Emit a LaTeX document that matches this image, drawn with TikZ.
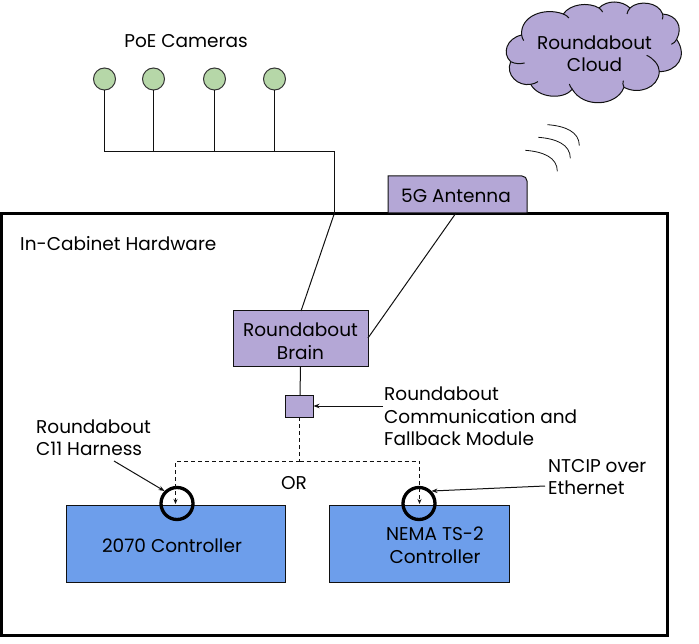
\documentclass[tikz,border=0pt]{standalone}
\usepackage{fontspec}
\setmainfont{Poppins}
\usetikzlibrary{arrows.meta}
\definecolor{lav}{HTML}{B4A7D6}
\definecolor{camg}{HTML}{B6D7A8}
\definecolor{ctrl}{HTML}{6D9EEB}
\definecolor{ink}{HTML}{111111}
\tikzset{
  x=1pt,y=-1pt,
  txt/.style={font=\fontsize{18.5}{22.5}\selectfont,text=black,inner sep=0pt,align=center},
  ltxt/.style={txt,align=left,anchor=north west},
  lav box/.style={draw=ink,line width=1pt,fill=lav,inner sep=0pt,outer sep=0pt,anchor=north west},
  ctrl box/.style={draw=ink,line width=1pt,fill=ctrl,inner sep=0pt,outer sep=0pt,anchor=north west},
  cam/.style={circle,draw=ink!85,line width=1pt,fill=camg,minimum size=22pt,inner sep=0pt},
  wire/.style={draw=ink,line width=1pt},
  dash wire/.style={draw=ink,line width=1pt,dash pattern=on 4pt off 3pt},
  tip/.style={-{Stealth[length=6pt,width=4.5pt]}},
  ring/.style={circle,draw=black,line width=3.3pt,minimum size=32pt,inner sep=0pt},
}
\begin{document}
\begin{tikzpicture}
\useasboundingbox (0,0) rectangle (699,644);
% cabinet
\node[draw=black,line width=3pt,minimum width=666pt,minimum height=421.5pt,inner sep=0pt,outer sep=0pt,anchor=north west] (cabinet) at (1,213.5) {};
\node[ltxt,anchor=west] (cablabel) at (20,244) {In-Cabinet Hardware};
% cameras
\node[txt] (camlabel) at (186,41) {PoE Cameras};
\node[cam] (c1) at (104.5,79) {};
\node[cam] (c2) at (153.5,79) {};
\node[cam] (c3) at (214.5,79) {};
\node[cam] (c4) at (274.5,79) {};
\coordinate (j1) at (104.5,152);
\coordinate (j2) at (153.5,152);
\coordinate (j3) at (214.5,152);
\coordinate (j4) at (274.5,152);
\coordinate (corner) at (334.5,152);
\coordinate (entry) at (334.5,213);
% cloud
\begin{scope}[shift={(480,0)},x=0.3333pt,y=-0.3333pt]
\path[draw=ink,line width=1pt,fill=lav]
 (125,105) .. controls (80,115) and (65,160) .. (92,185)
 .. controls (75,225) and (115,260) .. (152,253)
 .. controls (175,295) and (250,300) .. (277,268)
 .. controls (310,325) and (410,320) .. (432,262)
 .. controls (475,285) and (535,265) .. (538,215)
 .. controls (590,215) and (625,170) .. (590,118)
 .. controls (610,80) and (590,45) .. (548,42)
 .. controls (535,5) and (475,0) .. (450,24)
 .. controls (425,0) and (380,0) .. (357,24)
 .. controls (325,5) and (270,12) .. (250,42)
 .. controls (190,20) and (120,50) .. (125,105) -- cycle;
\draw[ink,line width=1pt] (92,185) .. controls (105,192) and (120,192) .. (134,189);
\draw[ink,line width=1pt] (538,215) .. controls (538,195) and (520,175) .. (500,166);
\draw[ink,line width=1pt] (590,118) .. controls (588,125) and (580,130) .. (574,133);
\draw[ink,line width=1pt] (432,262) .. controls (428,255) and (428,248) .. (430,242);
\draw[ink,line width=1pt] (277,268) .. controls (272,262) and (270,258) .. (268,252);
\draw[ink,line width=1pt] (125,105) .. controls (126,112) and (128,118) .. (131,122);
\draw[ink,line width=1pt] (450,24) .. controls (445,30) and (442,36) .. (441,42);
\draw[ink,line width=1pt] (357,24) .. controls (362,28) and (366,32) .. (368,36);
\draw[ink,line width=1pt] (250,42) .. controls (257,45) and (263,49) .. (267,54);
\draw[ink,line width=1pt] (548,42) .. controls (549,48) and (549,53) .. (547,58);
\draw[ink,line width=1pt] (152,253) .. controls (160,252) and (168,249) .. (174,245);
\end{scope}
\node[txt] (cloud) at (594.5,53.5) {Roundabout\\Cloud};
% signal arcs
\begin{scope}[shift={(480,0)},x=0.3333pt,y=-0.3333pt]
\draw[ink,line width=0.8pt] (202,374) .. controls (255,378) and (298,395) .. (298,437);
\draw[ink,line width=0.8pt] (175,412) .. controls (228,416) and (271,433) .. (271,475);
\draw[ink,line width=0.8pt] (136,451) .. controls (189,455) and (232,472) .. (232,514);
\end{scope}
% antenna
\path[draw=ink,line width=1pt,fill=lav] (388,213) -- (388,176) -- (522,176) to[out=0,in=90] (527,181) -- (527,213) -- cycle;
\node[txt] (antenna) at (456,196) {5G Antenna};
\coordinate (antfoot) at (456,213);
% brain, module
\node[lav box,minimum width=135pt,minimum height=56pt] (brain) at (233,311) {};
\node[txt] at ([yshift=-2pt]brain.center) {Roundabout\\Brain};
\node[lav box,minimum width=28pt,minimum height=22pt] (module) at (285.5,395) {};
\node[ltxt] (modlabel) at (384,387) {Roundabout\\Communication and\\Fallback Module};
% controllers
\node[ctrl box,minimum width=219pt,minimum height=77pt] (c2070) at (66.5,505.5) {};
\node[txt] at (172,546) {2070 Controller};
\node[ctrl box,minimum width=180pt,minimum height=77pt] (nema) at (329.5,505.5) {};
\node[txt] at (435,545.5) {NEMA TS-2\\Controller};
% labels
\node[ltxt] (c11) at (36,419.5) {Roundabout\\C11 Harness};
\node[ltxt] (ntcip) at (548,459) {NTCIP over\\Ethernet};
\node[txt] (or) at (294,483) {OR};
% rings
\node[ring] (r1) at (177,503.5) {};
\node[ring] (r2) at (419,503.5) {};
% camera wires
\draw[wire] (c1) -- (j1) -- (corner) -- (entry);
\draw[wire] (c2) -- (j2);
\draw[wire] (c3) -- (j3);
\draw[wire] (c4) -- (j4);
\draw[wire] (entry) -- (brain.north -| 301,0);
\draw[wire] (antfoot) -- (368,338);
\draw[wire] (300.5,367) -- (module.north -| 300,0);
% dashed
\coordinate (split) at (299.5,461);
\coordinate (dl) at (175.5,461);
\coordinate (dr) at (419.5,461);
\coordinate (al) at (175.5,504);
\coordinate (ar) at (419.5,504);
\draw[dash wire] (module.south -| split) -- (split);
\draw[dash wire,-{Stealth[length=5pt,width=4pt]}] (split) -- (dl) -- (al);
\draw[dash wire,-{Stealth[length=5pt,width=4pt]}] (split) -- (dr) -- (ar);
% callouts
\coordinate (a1) at (383,406);
\draw[wire,tip] (a1) -- (module.east);
\coordinate (a2) at (114,461);
\draw[wire,tip] (a2) -- (r1.north west);
\coordinate (a3) at (545,486);
\draw[wire,tip] (a3) -- (r2.north east);
\end{tikzpicture}
\end{document}
